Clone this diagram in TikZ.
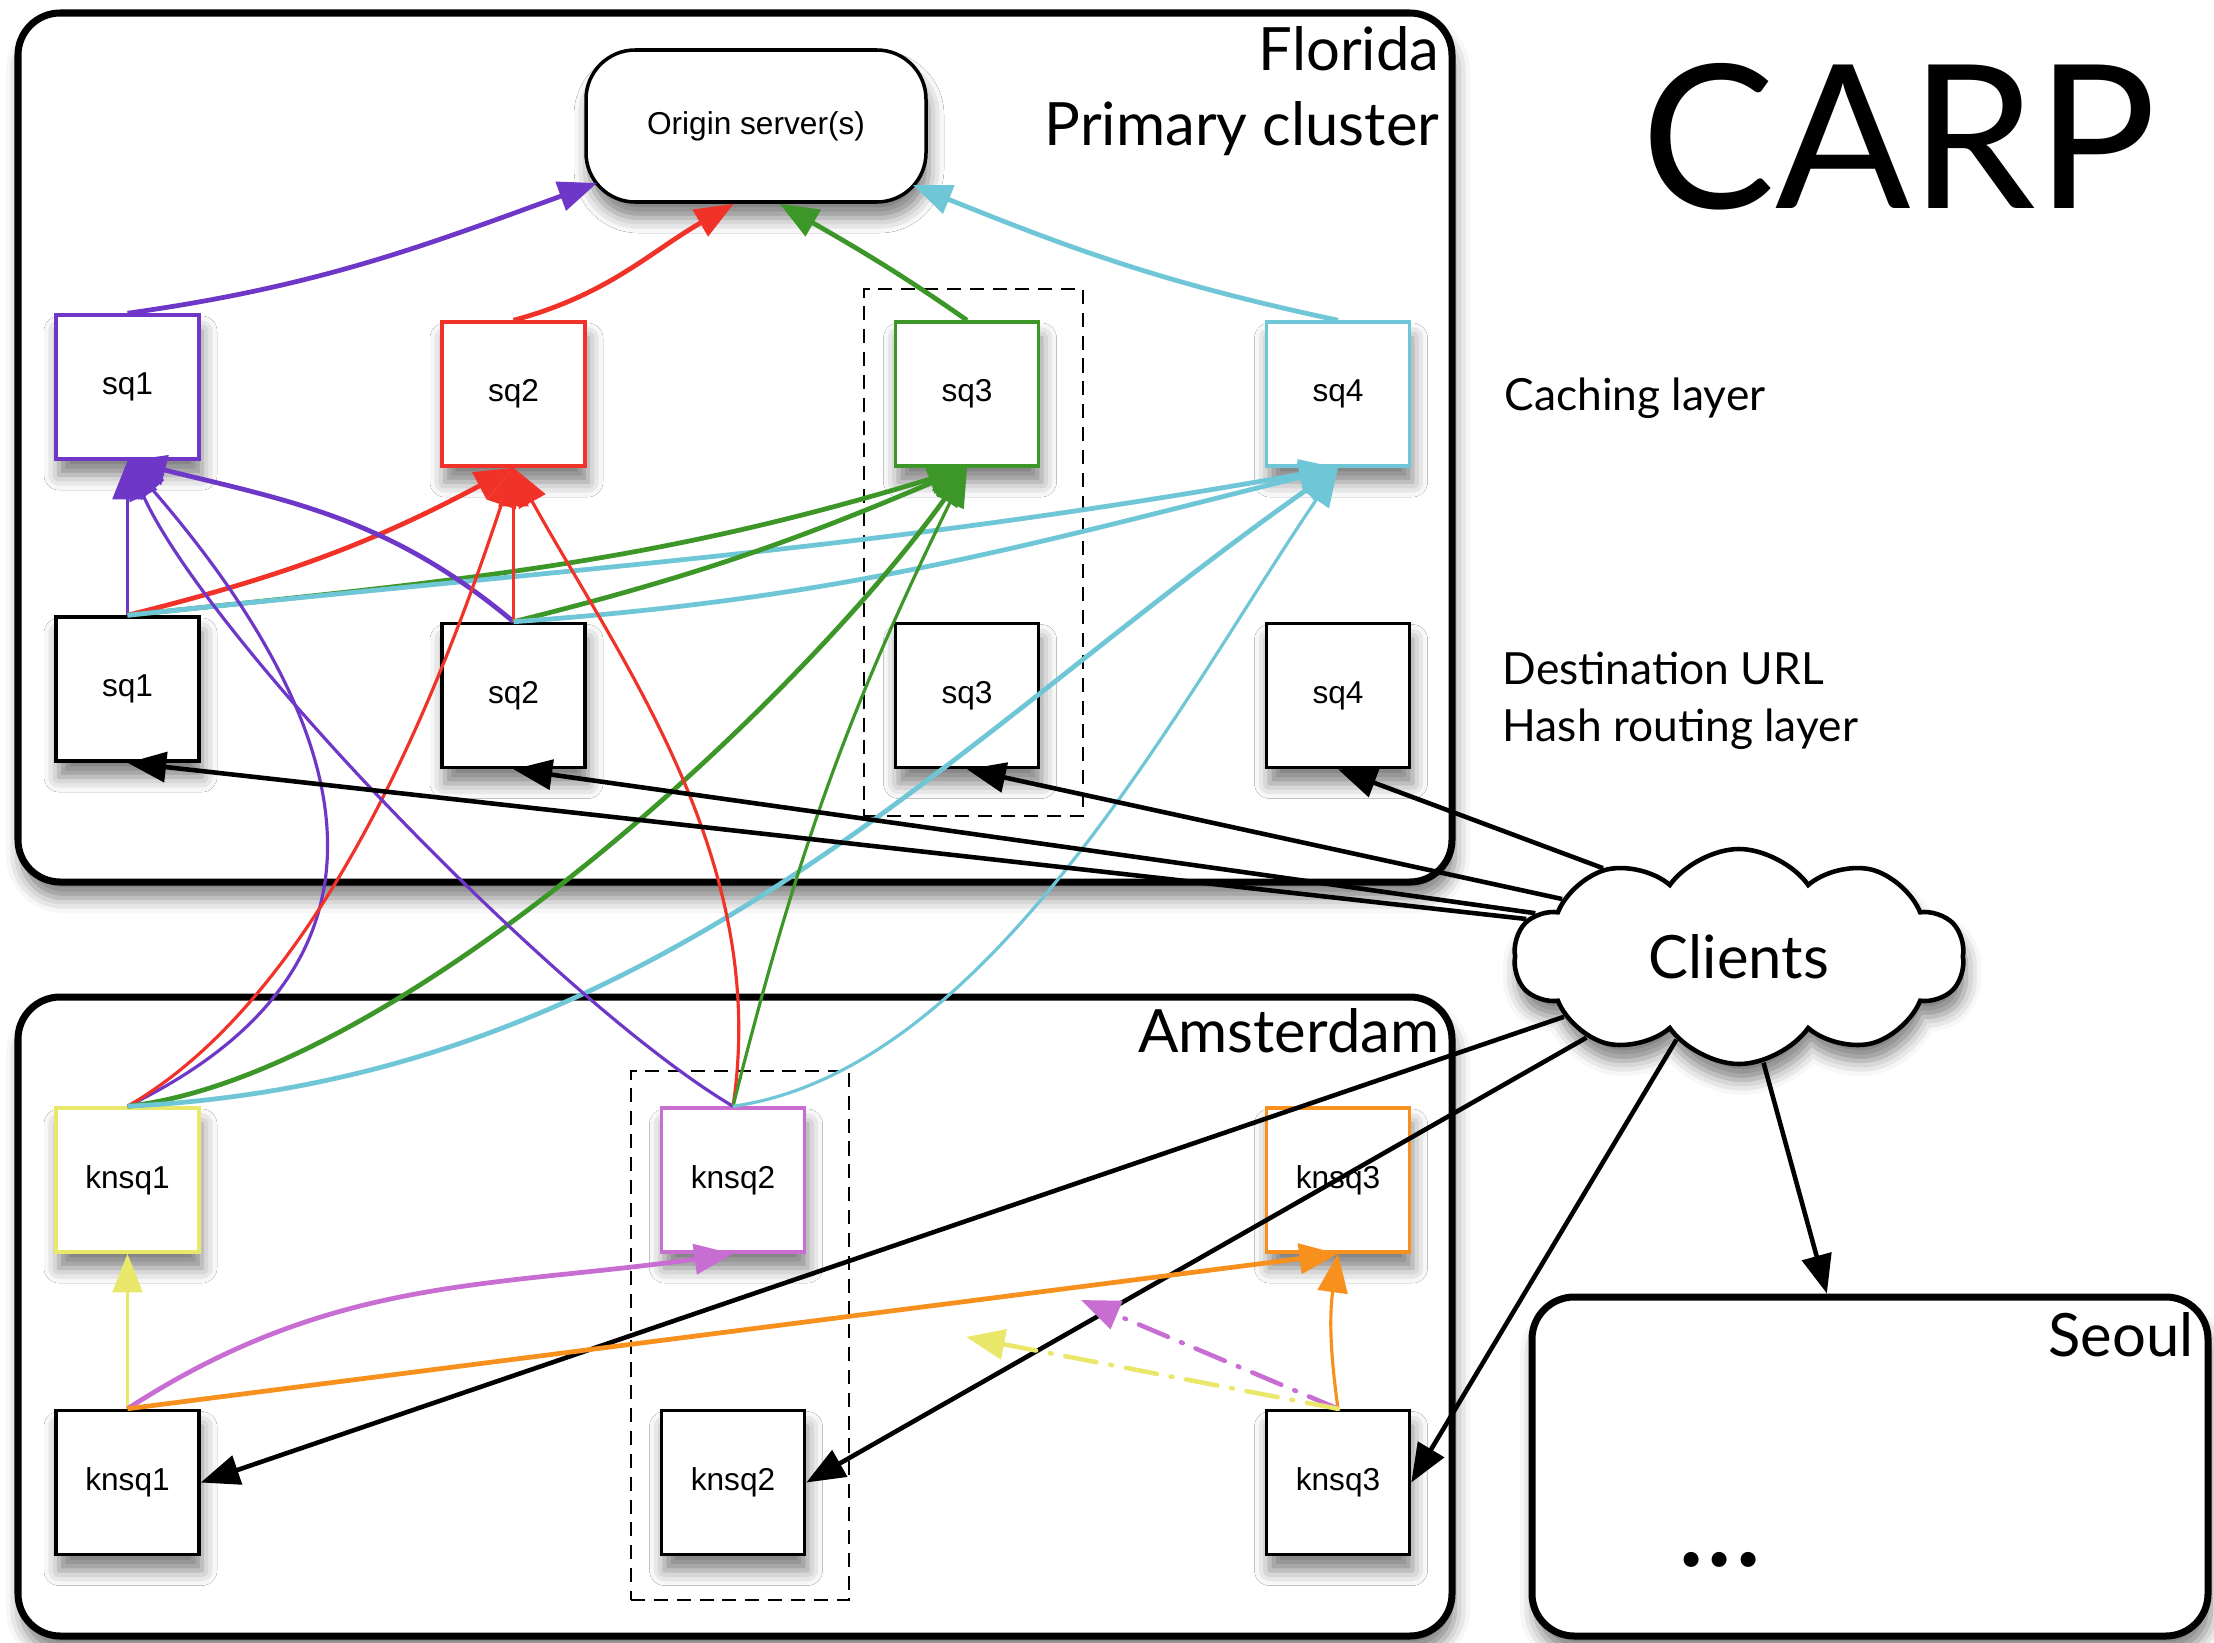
\documentclass[tikz,border=0pt]{standalone}
\usepackage{fontspec}
\setmainfont{Lato}
\newfontfamily\helv{Liberation Sans}
\usetikzlibrary{arrows.meta,shapes.symbols,shadows.blur}
\definecolor{sqpurple}{RGB}{110,55,200}
\definecolor{sqred}{RGB}{240,50,40}
\definecolor{sqgreen}{RGB}{60,150,40}
\definecolor{sqcyan}{RGB}{110,198,214}
\definecolor{knyellow}{RGB}{234,232,106}
\definecolor{knorchid}{RGB}{200,110,210}
\definecolor{knorange}{RGB}{248,144,30}

\begin{document}
\begin{tikzpicture}[
    >={Triangle[length=11pt,width=8.5pt]},
    softshadow/.style={blur shadow={shadow xshift=0.3mm, shadow yshift=-1.6mm, shadow blur radius=1.5mm, shadow opacity=50}},
    site/.style={draw, line width=2pt, rounded corners=12pt, fill=white, softshadow},
    pool/.style={draw, line width=0.8pt, dash pattern=on 4pt off 2.5pt},
    host/.style={draw=#1, fill=white, line width=1pt, minimum width=1.43cm, minimum height=1.44cm, font=\helv\fontsize{9}{11}\selectfont, softshadow},
    host/.default=black,
    sitelabel/.style={inner sep=0pt, anchor=base east, font=\fontsize{17}{20}\selectfont},
    layertext/.style={inner sep=0pt, anchor=base west, font=\fontsize{12.6}{15}\selectfont},
    wire/.style={->, line width=0.9pt},
    wirebold/.style={->, line width=1.35pt},
    route/.style={->, line width=1.3pt, black},
    hopline/.style={->, line width=1.3pt, dash pattern=on 9pt off 4pt on 0.5pt off 4pt, line cap=round}
  ]
  \useasboundingbox (0,0) rectangle (22.14,-16.42);

  \node[site, minimum width=14.34cm, minimum height=8.69cm] (florida) at (7.35,-4.475) {};
  \node[site, minimum width=14.34cm, minimum height=6.39cm] (amsterdam) at (7.35,-13.165) {};
  \node[site, minimum width=6.76cm, minimum height=3.39cm] (seoul) at (18.70,-14.665) {};

  \node[pool, minimum width=2.19cm, minimum height=5.27cm] (pool3) at (9.735,-5.525) {};
  \node[pool, minimum width=2.18cm, minimum height=5.29cm] (pool2) at (7.40,-13.355) {};

  \node[draw, rounded corners=14pt, fill=white, line width=1pt,
        minimum width=3.40cm, minimum height=1.52cm, font=\helv\fontsize{9}{11}\selectfont, softshadow]
        (origin) at (7.56,-1.26) {Origin server(s)};

  \node[host=sqpurple] (c1) at (1.275,-3.87) {sq1};
  \node[host=sqred] (c2) at (5.135,-3.94) {sq2};
  \node[host=sqgreen] (c3) at (9.67,-3.94) {sq3};
  \node[host=sqcyan] (c4) at (13.38,-3.94) {sq4};
  \node[host] (h1) at (1.275,-6.89) {sq1};
  \node[host] (h2) at (5.135,-6.955) {sq2};
  \node[host] (h3) at (9.67,-6.955) {sq3};
  \node[host] (h4) at (13.38,-6.955) {sq4};
  \node[host=knyellow] (a1) at (1.275,-11.80) {knsq1};
  \node[host=knorchid] (a2) at (7.33,-11.80) {knsq2};
  \node[host=knorange] (a3) at (13.38,-11.80) {knsq3};
  \node[host] (b1) at (1.275,-14.825) {knsq1};
  \node[host] (b2) at (7.33,-14.825) {knsq2};
  \node[host] (b3) at (13.38,-14.825) {knsq3};

  \node[cloud, draw, line width=1.3pt, fill=white, cloud puffs=10, cloud puff arc=110,
        cloud ignores aspect, minimum width=4.5cm, minimum height=2.15cm,
        font=\fontsize{17}{20}\selectfont, softshadow] (clients) at (17.39,-9.565) {Clients};

  \node[sitelabel] (floridatext) at (14.40,-0.70) {Florida};
  \node[sitelabel] (primarytext) at (14.40,-1.45) {Primary cluster};
  \node[sitelabel] (amstext) at (14.40,-10.52) {Amsterdam};
  \node[sitelabel] (seoultext) at (21.94,-13.56) {Seoul};
  \node[inner sep=0pt, anchor=base, font=\fontsize{57}{60}\selectfont] (carp) at (18.99,-2.08) {CARP};
  \node[layertext] (cachetext) at (15.04,-4.10) {Caching layer};
  \node[layertext] (desttext) at (15.02,-6.84) {Destination URL};
  \node[layertext] (hashtext) at (15.02,-7.41) {Hash routing layer};
  \node[inner sep=0pt, font=\fontsize{34}{40}\selectfont] (dots) at (17.2,-15.6) {...};

  \coordinate (orchidend) at (10.81,-13.00);
  \coordinate (yellowend) at (9.66,-13.37);

  \draw[wirebold, sqpurple] (c1.north) to[out=8,in=200] ([shift={(-1.59,-0.57)}]origin.center);
  \draw[wirebold, sqred] (c2.north) to[out=15,in=210] (origin.254);
  \draw[wirebold, sqgreen] (c3.north) to[out=145,in=-30] (origin.287);
  \draw[wirebold, sqcyan] (c4.north) to[out=168,in=-22] ([shift={(1.57,-0.59)}]origin.center);

  \draw[wire, sqpurple] (h1.north) -- (c1.south);
  \draw[wirebold, sqred] (h1.north) to[out=14,in=208] (c2.south);
  \draw[wirebold, sqgreen] (h1.north) to[out=6,in=197] (c3.south);
  \draw[wirebold, sqcyan] (h1.north) to[out=6,in=190] (c4.south);
  \draw[wirebold, sqpurple] (h2.north) to[out=140,in=-14] (c1.south);
  \draw[wire, sqred] (h2.north) -- (c2.south);
  \draw[wirebold, sqgreen] (h2.north) to[out=14,in=203] (c3.south);
  \draw[wirebold, sqcyan] (h2.north) to[out=4,in=194] (c4.south);

  \draw[wire, sqpurple] (a1.north) .. controls (4.7,-9.4) and (3.0,-6.6) .. (c1.south);
  \draw[wire, sqred] (a1.north) .. controls (3.3,-9.9) and (4.5,-6.6) .. (c2.south);
  \draw[wirebold, sqgreen] (a1.north) .. controls (4.0,-10.75) and (8.0,-7.0) .. (c3.south);
  \draw[wirebold, sqcyan] (a1.north) .. controls (6.6,-10.8) and (9.5,-7.4) .. (c4.south);
  \draw[wire, sqpurple] (a2.north) .. controls (5.62,-10.05) and (2.09,-6.41) .. (c1.south);
  \draw[wire, sqred] (a2.north) .. controls (7.7,-8.6) and (6.2,-6.6) .. (c2.south);
  \draw[wire, sqgreen] (a2.north) to[bend left=6] (c3.south);
  \draw[wire, sqcyan] (a2.north) .. controls (9.9,-10.7) and (11.8,-7.0) .. (c4.south);

  \draw[route] (clients.170) -- (h1.south);
  \draw[route] (clients.168) -- (h2.south);
  \draw[route] (clients.162) -- (h3.south);
  \draw[route] (clients.147) -- (h4.south);
  \draw[route] (clients.199) -- (b1.east);
  \draw[route] (clients.208) -- (b2.east);
  \draw[route] (clients.233) -- (b3.east);
  \draw[route] (clients.283) -- (seoul.104);

  \draw[wire, knyellow] (b1.north) -- (a1.south);
  \draw[wirebold, knorchid] (b1.north) to[out=33,in=188] (a2.south);
  \draw[wirebold, knorange] (b1.north) -- (a3.south);
  \draw[wire, knorange] (b3.north) to[bend left=8] (a3.south);
  \draw[hopline, knorchid] (b3.north) -- (orchidend);
  \draw[hopline, knyellow] (b3.north) -- (yellowend);
\end{tikzpicture}
\end{document}
